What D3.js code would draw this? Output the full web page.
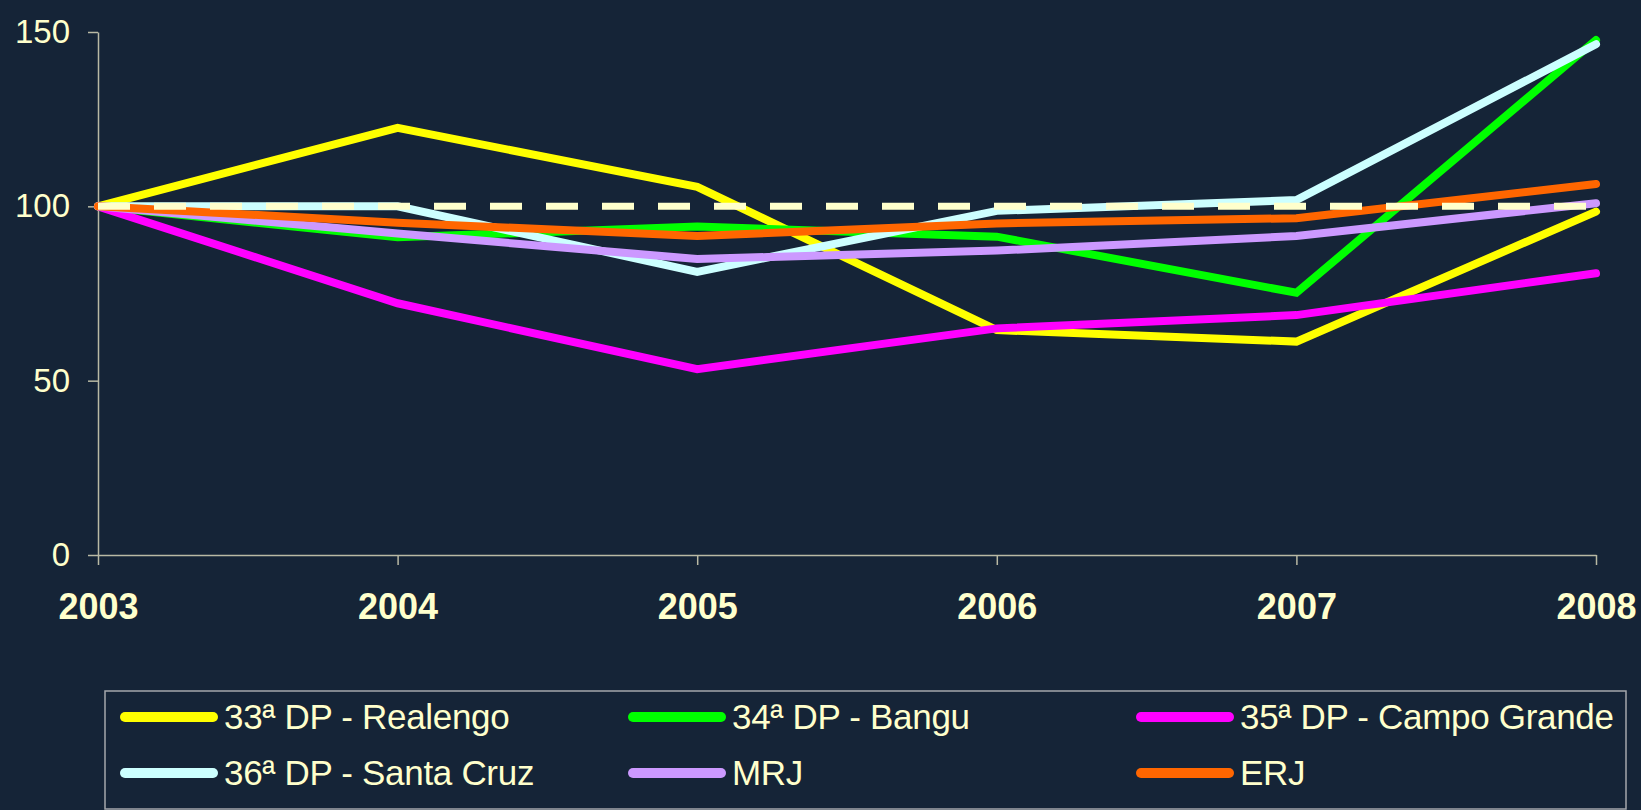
<!DOCTYPE html>
<html>
<head>
<meta charset="utf-8">
<script src="https://cdn.jsdelivr.net/npm/d3@7"></script>
<style>
  html, body { margin:0; padding:0; background:#152437; }
  svg { display:block; font-family:"Liberation Sans", Arial, sans-serif; }
</style>
</head>
<body>
<svg></svg>
<script>
// chart values
var years = [2003, 2004, 2005, 2006, 2007, 2008];
var yTicks = [0, 50, 100, 150];
var seriesNames = ["33ª DP - Realengo", "34ª DP - Bangu", "35ª DP - Campo Grande",
                   "36ª DP - Santa Cruz", "MRJ", "ERJ"];
var realengo    = [100, 122.5, 105.6, 64.5, 61.2, 98.5];
var bangu       = [100, 91.1, 94.2, 91.3, 75.2, 147.7];
var campoGrande = [100, 72.2, 53.3, 65.0, 68.8, 80.8];
var santaCruz   = [100, 100.0, 81.2, 98.7, 101.8, 146.5];
var mrj         = [100, 92.2, 84.9, 87.3, 91.5, 100.9];
var erj         = [100, 95.3, 91.5, 95.1, 96.6, 106.4];
var baseline    = [100, 100, 100, 100, 100, 100];
var colors = ["#ffff00", "#00ff00", "#ff00ff", "#ccffff", "#cc99ff", "#ff6600"];

var series = [realengo, bangu, campoGrande, santaCruz, mrj, erj].map(function(v, i){
  return { name: seriesNames[i], color: colors[i], values: v };
});

var W = 1641, H = 810;
var textColor = "#ffffcc", axisColor = "#b9b9a4";

var svg = d3.select("svg").attr("width", W).attr("height", H);
svg.append("rect").attr("width", W).attr("height", H).attr("fill", "#152437");

var x = d3.scaleLinear().domain([2003, 2008]).range([98, 1596]);
var y = d3.scaleLinear().domain([0, 150]).range([555, 32]);

// axes
var xAxis = d3.axisBottom(x).tickValues(years).tickFormat(d3.format("d"))
  .tickSize(10).tickSizeOuter(0).tickPadding(28);
var yAxis = d3.axisLeft(y).tickValues(yTicks).tickSize(10).tickSizeOuter(0).tickPadding(18);

var gy = svg.append("g").attr("transform", "translate(" + x(2003) + ",0)").call(yAxis);
var gx = svg.append("g").attr("transform", "translate(0," + y(0) + ")").call(xAxis);

[gx, gy].forEach(function(g){
  g.selectAll("path, line").attr("stroke", axisColor).attr("stroke-width", 1.5);
  g.selectAll("text").attr("fill", textColor).attr("font-family", "Liberation Sans, Arial, sans-serif");
});
gy.selectAll("text").attr("font-size", 33);
gx.selectAll("text").attr("font-size", 36).attr("font-weight", "bold");

// lines
var line = d3.line()
  .x(function(d, i){ return x(years[i]); })
  .y(function(d){ return y(d); });

svg.selectAll(".series")
  .data(series)
  .enter().append("path")
  .attr("class", "series")
  .attr("d", function(d){ return line(d.values); })
  .attr("fill", "none")
  .attr("stroke", function(d){ return d.color; })
  .attr("stroke-width", 8)
  .attr("stroke-linejoin", "miter")
  .attr("stroke-linecap", "round");

// dashed reference at 100
svg.append("path")
  .attr("d", line(baseline))
  .attr("fill", "none")
  .attr("stroke", "#ffffcc")
  .attr("stroke-width", 7)
  .attr("stroke-dasharray", "32,24");

// legend
var legend = svg.append("g");
legend.append("rect")
  .attr("x", 105).attr("y", 691)
  .attr("width", 1521).attr("height", 118)
  .attr("fill", "none")
  .attr("stroke", "#a4a6ac")
  .attr("stroke-width", 1.5);

var item = legend.selectAll(".item")
  .data(series)
  .enter().append("g")
  .attr("class", "item")
  .attr("transform", function(d, i){
    var col = i % 3, row = Math.floor(i / 3);
    return "translate(" + (120 + col * 508) + "," + (717 + row * 56) + ")";
  });

item.append("line")
  .attr("x1", 5).attr("x2", 93)
  .attr("stroke", function(d){ return d.color; })
  .attr("stroke-width", 10)
  .attr("stroke-linecap", "round");

item.append("text")
  .text(function(d){ return d.name; })
  .attr("x", 104)
  .attr("dy", "0.35em")
  .attr("font-size", 35)
  .attr("letter-spacing", "-0.3px")
  .attr("fill", textColor);
</script>
</body>
</html>
